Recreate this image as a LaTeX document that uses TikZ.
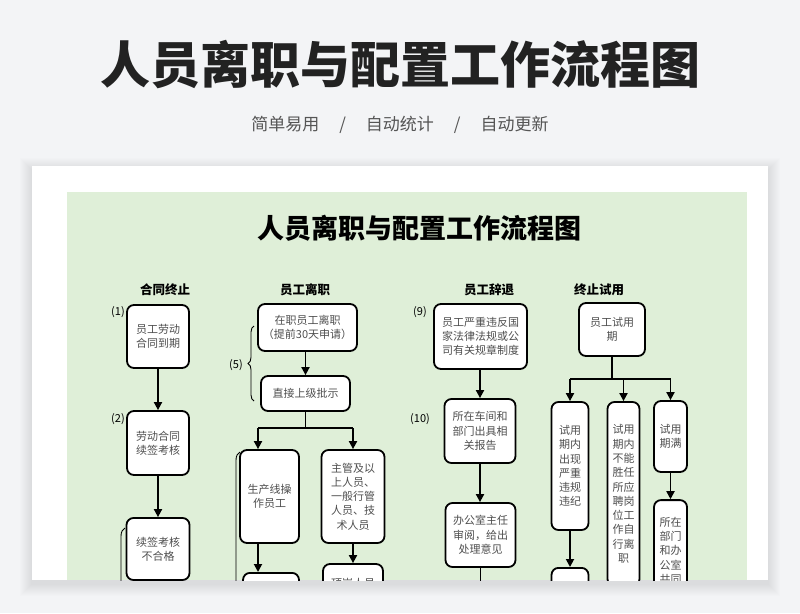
\documentclass[tikz,border=0pt]{standalone}
\usepackage{fontspec}
\setmainfont{Noto Sans CJK SC}
\usetikzlibrary{arrows.meta,decorations.pathreplacing}
\definecolor{pagebg}{RGB}{243,244,246}
\definecolor{sheetgreen}{RGB}{223,239,216}
\definecolor{titleink}{RGB}{34,34,34}
\definecolor{subink}{RGB}{85,85,85}
\definecolor{boxink}{RGB}{78,78,78}

\begin{document}
\begin{tikzpicture}[
    x=1pt, y=-1pt,
    >={Triangle[length=8pt,width=8pt]},
    box/.style={draw=black, line width=1.8pt, rounded corners=7pt, fill=white, inner sep=0pt,
      align=center, text=boxink, font=\fontsize{11}{14.3}\selectfont},
    flow/.style={draw=black, line width=1.8pt},
    head/.style={font=\bfseries\fontsize{12.5}{14}\selectfont},
    tag/.style={font=\fontsize{11}{13}\selectfont},
    curly/.style={draw=black, line width=0.9pt, decorate, decoration={brace, amplitude=#1}},
  ]
    \useasboundingbox (0,0) rectangle (800,613);
    \fill[pagebg] (0,0) rectangle (800,613);
    \node[font=\bfseries\fontsize{50}{56}\selectfont, text=titleink] (maintitle) at (400,65) {人员离职与配置工作流程图};
    \node[font=\fontsize{17}{20}\selectfont, text=subink] (subtitle) at (400,125)
      {简单易用\hspace{20pt}/\hspace{20pt}自动统计\hspace{20pt}/\hspace{20pt}自动更新};

    \foreach \s in {1,...,12}
      \fill[black, opacity=0.006] (32-\s,170-\s) rectangle (768+\s,584+\s);
    \fill[white] (32,166) rectangle (768,580);

    \begin{scope}
    \clip (67,192) rectangle (747,580);
    \fill[sheetgreen] (67,192) rectangle (747,580);
    \node[font=\bfseries\fontsize{27}{30}\selectfont] (sheettitle) at (419,228) {人员离职与配置工作流程图};

    \foreach \x/\lab in {165/合同终止, 305/员工离职, 489/员工辞退, 599/终止试用}
      \node[head] (hd\x) at (\x,290) {\lab};
    \foreach \x/\y/\lab [count=\k] in {118/312/(1), 118/419/(2), 236/365/(5), 420/312/(9), 420/419/(10)}
      \node[tag] (tag\k) at (\x,\y) {\lab};

    % contract ends
    \node[box, minimum width=62pt, minimum height=63pt] (ct1) at (158,336.5) {员工劳动\\合同到期};
    \node[box, minimum width=62pt, minimum height=64pt] (ct2) at (158,443) {劳动合同\\续签考核};
    \node[box, minimum width=63pt, minimum height=62pt] (ct3) at (158,549) {续签考核\\不合格};
    \draw[flow,->] (ct1) -- (ct2);
    \draw[flow,->] (ct2) -- (ct3);
    \draw[curly=8pt] (125,700) -- (125,528);

    % resignation
    \node[box, minimum width=99pt, minimum height=47pt] (lz1) at (307.5,327.5) {在职员工离职\\（提前30天申请）};
    \node[box, minimum width=89pt, minimum height=35pt] (lz2) at (305.5,393.5) {直接上级批示};
    \node[box, minimum width=59pt, minimum height=93pt] (lz3) at (269.5,496.5) {生产线操\\作员工};
    \node[box, minimum width=63pt, minimum height=93pt] (lz4) at (353,496.5) {主管及以\\上人员、\\一般行管\\人员、技\\术人员};
    \node[box, minimum width=56pt, minimum height=60pt, anchor=north] (lz5) at (271,572) {};
    \node[box, minimum width=60pt, minimum height=38pt] (lz6) at (353,583) {顶岗人员};
    \coordinate (lzfork) at (305.5,428);
    \coordinate (lzl) at (258,428);
    \draw[flow,->] (lz2 |- lz1.south) -- (lz2.north);
    \draw[flow] (lz2) -- (lzfork);
    \draw[flow] (lzl) -- (lzfork -| lz4);
    \draw[flow,->] (lzl) -- (lzl |- lz3.north);
    \draw[flow,->] (lzfork -| lz4) -- (lz4.north);
    \draw[flow,->] (lzl |- lz3.south) -- (lzl |- lz5.north);
    \draw[flow,->] (lz4) -- (lz6);
    \draw[curly=6pt] (254,401) -- (254,326);
    \draw[curly=8pt] (240,760) -- (240,452);

    % dismissal
    \node[box, minimum width=93pt, minimum height=65pt] (tc1) at (480.5,336.5) {员工严重违反国\\家法律法规或公\\司有关规章制度};
    \node[box, minimum width=71pt, minimum height=64pt] (tc2) at (480,431) {所在车间和\\部门出具相\\关报告};
    \node[box, minimum width=70pt, minimum height=64pt] (tc3) at (480.5,535) {办公室主任\\审阅，给出\\处理意见};
    \coordinate (tcend) at (480.5,610);
    \draw[flow,->] (tc2 |- tc1.south) -- (tc2.north);
    \draw[flow,->] (tc2) -- (tc2 |- tc3.north);
    \draw[flow] (tc3) -- (tcend);

    % probation ends
    \node[box, minimum width=66pt, minimum height=53pt] (sy0) at (612,329.5) {员工试用\\期};
    \node[box, minimum width=37pt, minimum height=128pt] (sy1) at (570,466) {试用\\期内\\出现\\严重\\违规\\违纪};
    \node[box, minimum width=32pt, minimum height=184pt] (sy2) at (623.5,494) {试用\\期内\\不能\\胜任\\所应\\聘岗\\位工\\作自\\行离\\职};
    \node[box, minimum width=33pt, minimum height=71pt] (sy3) at (670.5,436.5) {试用\\期满};
    \node[box, minimum width=37pt, minimum height=50pt, anchor=north] (sy4) at (570,567) {};
    \node[box, minimum width=33pt, minimum height=101pt] (sy5) at (670.5,550.6) {所在\\部门\\和办\\公室\\共同};
    \coordinate (syfork) at (612,379);
    \draw[flow] (sy0) -- (syfork);
    \draw[flow] (syfork -| sy1) -- (syfork -| sy3);
    \foreach \b in {sy1,sy2,sy3}
      \draw[flow,->] (syfork -| \b) -- (\b.north);
    \draw[flow,->] (sy1) -- (sy4);
    \draw[flow,->] (sy3) -- (sy5);
    \end{scope}
\end{tikzpicture}
\end{document}
